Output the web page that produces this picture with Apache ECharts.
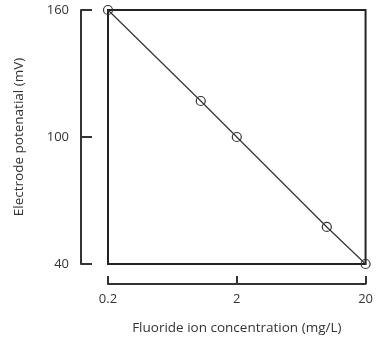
<!DOCTYPE html>
<html>
<head>
<meta charset="utf-8">
<script src="https://cdn.jsdelivr.net/npm/echarts@6/dist/echarts.min.js"></script>
<style>
  html, body { margin: 0; padding: 0; background: #fff; }
  #chart { width: 376px; height: 340px; }
</style>
</head>
<body>
<div id="chart"></div>
<script>
// Fluoride calibration data
const concentration = [0.2, 1.05, 2, 10, 20]
const potential = [160, 117, 100, 57.5, 40]
const xTicks = [0.2, 2, 20]
const yTicks = [40, 100, 160]

const chart = echarts.init(document.getElementById('chart'))
const font = '"Open Sans", sans-serif'
const ink = '#333'

chart.setOption({
    backgroundColor: '#fff',
    animation: false,
    grid: {
        left: 108,
        right: 8,
        top: 10,
        bottom: 76,
        show: true,
        borderColor: '#222',
        borderWidth: 2,
    },
    xAxis: {
        type: 'log',
        logBase: 10,
        min: 0.2,
        max: 20,
        offset: 20,
        name: 'Fluoride ion concentration (mg/L)',
        nameLocation: 'middle',
        nameGap: 37,
        nameTextStyle: { color: ink, fontFamily: font, fontSize: 13.5 },
        axisLine: { show: true, lineStyle: { color: ink, width: 2 } },
        axisTick: { show: true, inside: true, length: 8, lineStyle: { color: ink, width: 2 }, customValues: xTicks },
        axisLabel: { color: ink, fontFamily: font, fontSize: 13, margin: 9, customValues: xTicks, formatter: (v) => String(v) },
        splitLine: { show: false },
        minorTick: { show: false },
    },
    yAxis: {
        type: 'value',
        min: 40,
        max: 160,
        offset: 27,
        name: 'Electrode potenatial (mV)',
        nameLocation: 'middle',
        nameGap: 55,
        nameTextStyle: { color: ink, fontFamily: font, fontSize: 13.5 },
        axisLine: { show: true, lineStyle: { color: ink, width: 2 } },
        axisTick: { show: true, inside: true, length: 11, lineStyle: { color: ink, width: 2 }, customValues: yTicks },
        axisLabel: { color: ink, fontFamily: font, fontSize: 13, margin: 12, customValues: yTicks },
        splitLine: { show: false },
    },
    series: [
        {
            type: 'line',
            data: concentration.map((c, i) => [c, potential[i]]),
            clip: false,
            symbol: 'circle',
            symbolSize: 9,
            showAllSymbol: true,
            lineStyle: { color: ink, width: 1.2 },
            itemStyle: { color: 'rgba(0,0,0,0)', borderColor: ink, borderWidth: 1.2 },
        },
    ],
})
</script>
</body>
</html>
